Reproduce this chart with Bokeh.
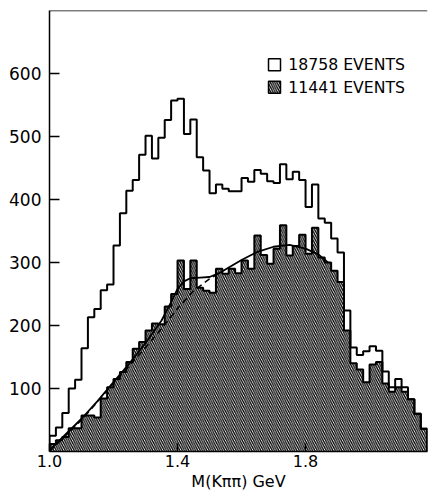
import numpy as np
from bokeh.plotting import figure
from bokeh.models import FixedTicker, Span, Range1d, PrintfTickFormatter
from bokeh.embed import file_html
from bokeh.resources import INLINE
from bokeh.core.properties import value

# ---- data ----
bin_start = 1.00
bin_width = 0.02

all_events = [25, 38, 61, 100, 114, 164, 213, 226, 256, 265,
              327, 378, 414, 431, 471, 501, 465, 498, 526, 557,
              560, 504, 527, 467, 446, 410, 424, 417, 413, 413,
              434, 428, 447, 441, 429, 426, 456, 432, 444, 431,
              388, 424, 370, 363, 338, 316, 224, 165, 153, 159,
              167, 160, 127, 102, 115, 102, 83, 60, 36]

sub_events = [12, 18, 23, 37, 37, 57, 57, 54, 84, 102,
              115, 126, 142, 163, 174, 192, 203, 202, 230, 250,
              303, 258, 303, 260, 255, 252, 290, 282, 290, 283,
              303, 290, 343, 312, 298, 322, 359, 311, 326, 344,
              314, 355, 308, 300, 287, 269, 192, 140, 130, 110,
              138, 142, 108, 95, 102, 95, 83, 60, 36]

fit_x = [1.00, 1.05, 1.10, 1.15, 1.20, 1.25, 1.30, 1.35, 1.38, 1.40,
         1.42, 1.44, 1.47, 1.50, 1.53, 1.56, 1.60, 1.65, 1.70, 1.75,
         1.80, 1.84, 1.87]
fit_y = [2, 27, 52, 80, 110, 140, 172, 208, 237, 258,
         270, 275, 276, 277, 283, 292, 304, 317, 325, 328,
         322, 313, 300]

bg_x = [1.00, 1.10, 1.20, 1.30, 1.35, 1.40, 1.45, 1.50, 1.53]
bg_y = [0, 50, 108, 165, 195, 227, 255, 274, 283]

y_ticks = [100, 200, 300, 400, 500, 600]
x_ticks = [1.0, 1.4, 1.8]
legend_labels = ["18758 EVENTS", "11441 EVENTS"]

FONT = "DejaVu Sans"

edges = bin_start + bin_width * np.arange(len(all_events) + 1)


def step_path(vals):
    xs = [edges[0]]
    ys = [0]
    for i, v in enumerate(vals):
        xs += [edges[i], edges[i + 1]]
        ys += [v, v]
    xs.append(edges[-1])
    ys.append(0)
    return xs, ys


p = figure(width=428, height=498, output_backend="svg", toolbar_location=None,
           x_range=Range1d(1.0, 2.181), y_range=Range1d(0, 700),
           min_border_left=49, min_border_right=1, min_border_top=10,
           min_border_bottom=47)
p.outline_line_color = None
p.grid.visible = False
p.background_fill_color = "white"

HATCH = dict(hatch_pattern="\\", hatch_color="black", hatch_scale=4.5, hatch_weight=1.3)

# hatched histogram (fill)
p.varea_step(x=list(edges), y1=[0] * len(edges), y2=list(sub_events) + [sub_events[-1]],
             step_mode="after", fill_color=None, fill_alpha=0, **HATCH)

# outlines
xa, ya = step_path(all_events)
p.line(xa, ya, line_color="black", line_width=2)
xs_, ys_ = step_path(sub_events)
p.line(xs_, ys_, line_color="black", line_width=2)

# fit curves
p.line(fit_x, fit_y, line_color="black", line_width=1.8)
p.line(bg_x, bg_y, line_color="black", line_width=1.5, line_dash="6 4")

# top frame line
p.add_layout(Span(location=700, dimension="width", line_color="black", line_width=1.5))

# legend (manual)
leg_x = 1.703
leg_y = [614, 578]
p.rect([leg_x], [leg_y[0]], width=12, height=12, width_units="screen", height_units="screen",
       fill_color="white", line_color="black", line_width=1.5)
p.rect([leg_x], [leg_y[1]], width=12, height=12, width_units="screen", height_units="screen",
       fill_color="white", line_color="black", line_width=1.5, **HATCH)
p.text([leg_x + 0.043] * 2, leg_y, text=legend_labels, text_baseline="middle",
       text_align="left", text_font=value(FONT), text_font_size="15.7px", text_color="black")

# axes
for ax in (p.xaxis, p.yaxis):
    ax.axis_line_color = "black"
    ax.axis_line_width = 1.5
    ax.major_tick_line_color = "black"
    ax.major_tick_line_width = 1.5
    ax.minor_tick_line_color = None
    ax.major_tick_out = 0
    ax.major_label_text_font = FONT
    ax.major_label_text_color = "black"

p.yaxis.ticker = FixedTicker(ticks=y_ticks)
p.yaxis.major_tick_in = 10
p.yaxis.major_label_text_font_size = "17px"
p.yaxis.major_label_standoff = 8

p.xaxis.ticker = FixedTicker(ticks=x_ticks)
p.xaxis.formatter = PrintfTickFormatter(format="%.1f")
p.xaxis.major_tick_in = 8
p.xaxis.major_label_text_font_size = "16px"
p.xaxis.major_label_standoff = 3
p.xaxis.axis_label = "M(Kππ) GeV"
p.xaxis.axis_label_text_font = FONT
p.xaxis.axis_label_text_font_size = "16px"
p.xaxis.axis_label_text_font_style = "normal"
p.xaxis.axis_label_standoff = 2
p.xaxis.axis_label_text_color = "black"

open("out.html", "w").write(file_html(p, INLINE))
